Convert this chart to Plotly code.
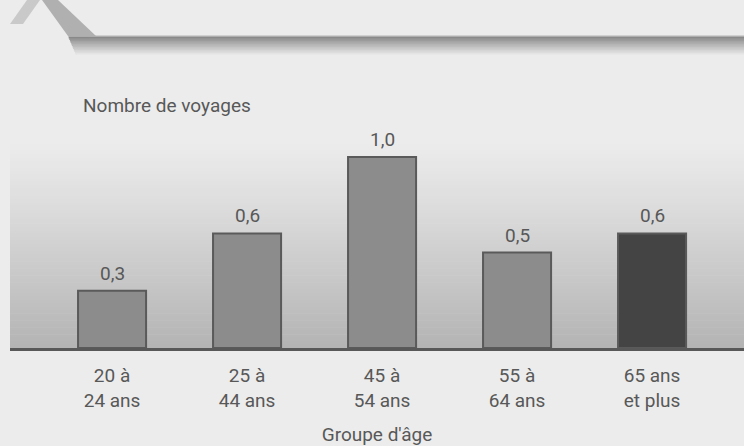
import plotly.graph_objects as go

categories = ["20 à<br>24 ans", "25 à<br>44 ans", "45 à<br>54 ans", "55 à<br>64 ans", "65 ans<br>et plus"]
values = [0.3, 0.6, 1.0, 0.5, 0.6]
value_labels = ["0,3", "0,6", "1,0", "0,5", "0,6"]
bar_colors = ["#8c8c8c", "#8c8c8c", "#8c8c8c", "#8c8c8c", "#444444"]
y_title = "Nombre de voyages"
x_title = "Groupe d'âge"

W, H = 744, 446
L, R, T, B = 10, 0, 140, 98
PW, PH = W - L - R, H - T - B
FONT = "Roboto, Liberation Sans, sans-serif"
FS = 19
TXT = "#585858"
BG = "#ececec"


def px(x):
    return (x - L) / PW


def py(y):
    return (H - B - y) / PH


def mix(c1, c2, t):
    a = [int(c1[i:i + 2], 16) for i in (1, 3, 5)]
    b = [int(c2[i:i + 2], 16) for i in (1, 3, 5)]
    return "#%02x%02x%02x" % tuple(round(a[k] + (b[k] - a[k]) * t) for k in range(3))


shapes = []
# plot-area vertical gradient
N = 60
for i in range(N):
    t = i / (N - 1)
    y0 = 140 + (208 * i / N)
    y1 = 140 + (208 * (i + 1) / N) + 0.5
    shapes.append(dict(type="rect", xref="paper", yref="paper", x0=0, x1=1,
                       y0=py(y1), y1=py(y0), line=dict(width=0),
                       fillcolor=mix(BG, "#b4b4b4", t ** 1.1), layer="below"))

# header band gradient
band_top, band_bot = 35, 56
M = 14
for i in range(M):
    t = i / (M - 1)
    y0 = band_top + (band_bot - band_top) * i / M
    y1 = band_top + (band_bot - band_top) * (i + 1) / M + 0.5
    if i == 0:
        col = "#d0d0d0"
    else:
        col = mix("#7e7e7e", BG, t ** 0.9)
    xl0 = 68 + 9 * (y0 - band_top) / (band_bot - band_top)
    shapes.append(dict(type="rect", xref="paper", yref="paper", x0=px(xl0), x1=px(744),
                       y0=py(y1), y1=py(y0), line=dict(width=0), fillcolor=col, layer="below"))


def path(pts):
    return "M " + " L ".join("%f,%f" % (px(a), py(b)) for a, b in pts) + " Z"


shapes.append(dict(type="path", xref="paper", yref="paper",
                   path=path([(10, 24), (23, 24), (40, 0), (27, 0)]),
                   fillcolor="#c9c9c9", line=dict(width=0), layer="below"))
shapes.append(dict(type="path", xref="paper", yref="paper",
                   path=path([(42, 0), (58, 0), (96, 36), (68, 36)]),
                   fillcolor="#b0b0b0", line=dict(width=0), layer="below"))

xs = list(range(len(categories)))

fig = go.Figure()
fig.add_trace(go.Bar(
    x=xs, y=values, width=0.504,
    marker=dict(color=bar_colors, line=dict(color="#5a5a5a", width=2)),
    hoverinfo="skip",
))

annotations = [dict(text=y_title, xref="paper", yref="paper", x=px(81), y=py(106),
                    xanchor="left", yanchor="middle", showarrow=False,
                    font=dict(family=FONT, size=FS, color=TXT))]
for x, v, lab in zip(xs, values, value_labels):
    annotations.append(dict(text=lab, x=x, y=v, xref="x", yref="y", yanchor="bottom",
                            yshift=4, showarrow=False,
                            font=dict(family=FONT, size=FS, color=TXT)))

fig.update_layout(
    width=W, height=H,
    margin=dict(l=L, r=R, t=T, b=B),
    paper_bgcolor=BG, plot_bgcolor="rgba(0,0,0,0)",
    showlegend=False,
    shapes=shapes,
    font=dict(family=FONT, size=FS, color=TXT),
    annotations=annotations,
)
fig.update_xaxes(
    range=[-0.756, 4.681], tickvals=xs, ticktext=categories,
    showgrid=False, zeroline=False, showline=True, linecolor="#585858", linewidth=3,
    ticks="outside", ticklen=8, tickcolor="rgba(0,0,0,0)",
    tickfont=dict(family=FONT, size=FS, color=TXT),
    title=dict(text=x_title, standoff=18, font=dict(family=FONT, size=FS, color=TXT)),
    fixedrange=True,
)
fig.update_yaxes(range=[0, 208 / 191], showgrid=False, zeroline=False, showticklabels=False,
                 showline=False, fixedrange=True)

fig.write_html("out.html", config={"displayModeBar": False},
               post_script="document.body.style.margin='0';document.body.style.padding='0';")
